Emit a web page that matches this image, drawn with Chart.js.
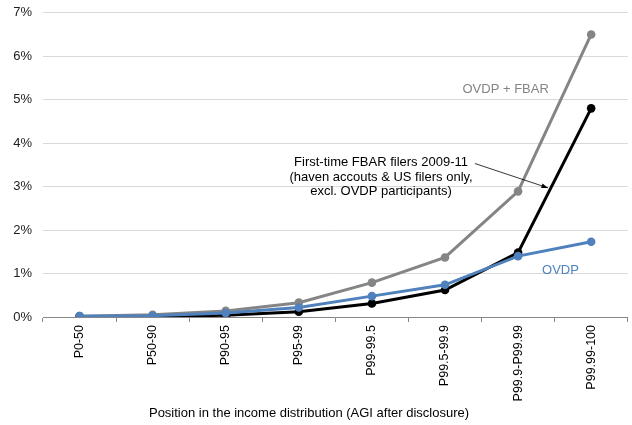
<!DOCTYPE html>
<html>
<head>
<meta charset="utf-8">
<script src="https://cdn.jsdelivr.net/npm/chart.js@4/dist/chart.umd.min.js"></script>
<style>
  html, body { margin: 0; padding: 0; background: #fff; }
  #wrap { width: 632px; height: 425px; }
</style>
</head>
<body>
<div id="wrap"><canvas id="plot"></canvas></div>
<script>
const categories = ['P0-50', 'P50-90', 'P90-95', 'P95-99', 'P99-99.5', 'P99.5-99.9', 'P99.9-P99.99', 'P99.99-100'];
const ovdpFbar = [0.02, 0.05, 0.14, 0.33, 0.79, 1.37, 2.89, 6.5];
const fbarFirstTime = [0.01, 0.01, 0.04, 0.12, 0.31, 0.62, 1.48, 4.8];
const ovdp = [0.02, 0.03, 0.09, 0.22, 0.48, 0.74, 1.4, 1.73];
const yTicks = [0, 1, 2, 3, 4, 5, 6, 7];
const xTitle = 'Position in the income distribution (AGI after disclosure)';

const FONT = "'Liberation Sans', Arial, sans-serif";

// labels drawn over the plot, placed in data units (category index, percent)
const notes = [
    { lines: ['OVDP + FBAR'], x: 5.83, y: 5.23, color: '#858585' },
    { lines: ['OVDP'], x: 6.58, y: 1.06, color: '#4f81bd' },
    { lines: ['First-time FBAR filers 2009-11', '(haven accouts & US filers only,', 'excl. OVDP participants)'], x: 4.125, y: 3.55, color: '#000' }
];
const arrow = { from: [5.41, 3.53], to: [6.41, 2.97] };

const notesPlugin = {
    id: 'notes',
    afterDatasetsDraw(chart) {
        const ctx = chart.ctx;
        const xs = chart.scales.x, ys = chart.scales.y;
        ctx.save();
        ctx.font = '13px ' + FONT;
        ctx.textAlign = 'center';
        ctx.textBaseline = 'middle';
        notes.forEach(n => {
            ctx.fillStyle = n.color;
            const cx = xs.getPixelForValue(n.x);
            const cy = ys.getPixelForValue(n.y);
            n.lines.forEach((t, i) => ctx.fillText(t, cx, cy + i * 14.5));
        });

        // axis title sits a little left of the plot centre in the original
        ctx.fillStyle = '#000';
        ctx.fillText(xTitle, chart.width / 2 - 7, chart.height - 12);

        const x1 = xs.getPixelForValue(arrow.from[0]), y1 = ys.getPixelForValue(arrow.from[1]);
        const x2 = xs.getPixelForValue(arrow.to[0]), y2 = ys.getPixelForValue(arrow.to[1]);
        ctx.strokeStyle = '#000';
        ctx.lineWidth = 0.8;
        ctx.beginPath();
        ctx.moveTo(x1, y1);
        ctx.lineTo(x2, y2);
        ctx.stroke();
        const a = Math.atan2(y2 - y1, x2 - x1);
        ctx.beginPath();
        ctx.moveTo(x2, y2);
        ctx.lineTo(x2 - 7 * Math.cos(a - 0.35), y2 - 7 * Math.sin(a - 0.35));
        ctx.lineTo(x2 - 7 * Math.cos(a + 0.35), y2 - 7 * Math.sin(a + 0.35));
        ctx.closePath();
        ctx.fill();
        ctx.restore();
    }
};

function series(data, color, order) {
    return {
        data: data,
        borderColor: color,
        backgroundColor: color,
        borderWidth: 3,
        pointRadius: 4.3,
        pointHoverRadius: 4.3,
        pointBorderWidth: 0,
        tension: 0,
        order: order
    };
}

new Chart(document.getElementById('plot'), {
    type: 'line',
    data: {
        labels: categories,
        datasets: [
            series(ovdpFbar, '#858585', 3),
            series(fbarFirstTime, '#000000', 2),
            series(ovdp, '#4f81bd', 1)
        ]
    },
    options: {
        responsive: true,
        maintainAspectRatio: false,
        animation: false,
        layout: { padding: { top: 12.7, right: 2, left: 0, bottom: 0 } },
        plugins: {
            legend: { display: false },
            tooltip: { enabled: false }
        },
        scales: {
            x: {
                offset: true,
                grid: {
                    offset: true,
                    drawOnChartArea: false,
                    color: '#868686',
                    tickLength: 5
                },
                border: { color: '#868686', width: 1 },
                ticks: {
                    minRotation: 90,
                    maxRotation: 90,
                    padding: 3,
                    color: '#000',
                    font: { family: FONT, size: 12.5 }
                },
                afterFit(scale) { scale.height = 108; }
            },
            y: {
                min: 0,
                max: 7,
                afterBuildTicks(scale) { scale.ticks = yTicks.map(v => ({ value: v })); },
                grid: { color: '#d9d9d9', drawTicks: false },
                border: { display: false },
                ticks: {
                    padding: 11,
                    color: '#222',
                    font: { family: FONT, size: 13 },
                    callback: v => v + '%'
                },
                afterFit(scale) {
                    scale.width = 43;
                    scale.paddingTop = 0;
                    scale.paddingBottom = 0;
                }
            }
        }
    },
    plugins: [notesPlugin]
});
</script>
</body>
</html>
